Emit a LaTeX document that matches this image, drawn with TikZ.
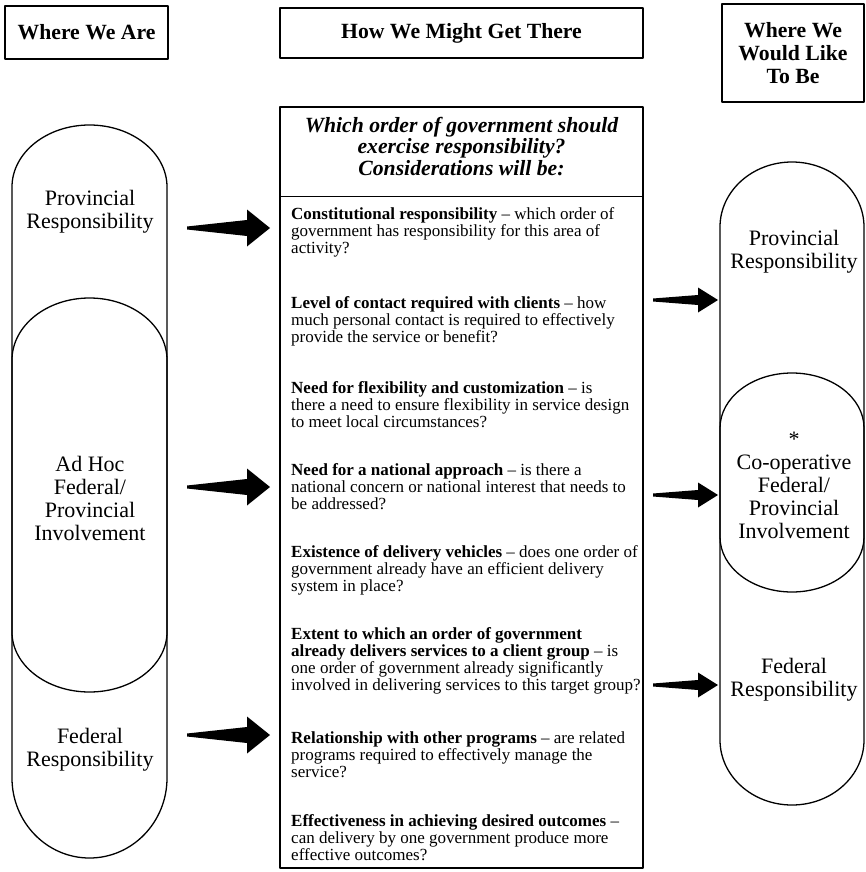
\documentclass[tikz,border=0pt]{standalone}
\usepackage{fontspec}
\setmainfont{Liberation Serif}
\usetikzlibrary{calc}

\begin{document}
\begin{tikzpicture}[x=1pt, y=-1pt, line join=round,
  heading/.style={draw, line width=1.5pt, inner sep=0pt, align=center,
    font=\fontsize{21.7}{23}\selectfont\bfseries},
  stage/.style={align=center, inner sep=0pt, font=\fontsize{22}{23}\selectfont},
  crit/.style={anchor=base west, inner sep=0pt, align=left,
    font=\fontsize{17}{17}\selectfont},
  capsule/.style={draw, line width=1.3pt},
  fatarrow/.style n args={3}{to path={let \p1=(\tikztostart), \p2=(\tikztotarget) in
    (\x1,\y1+1.5pt) -- (\x2-#1,\y2+#3) -- (\x2-#1,\y2+#2) -- (\x2,\y2)
    -- (\x2-#1,\y2-#2) -- (\x2-#1,\y2-#3) -- (\x1,\y1-1.5pt) -- cycle}},
  bigarrow/.style={fatarrow={23pt}{18.5pt}{8pt}},
  smallarrow/.style={fatarrow={20pt}{12.5pt}{5pt}}]

  \useasboundingbox (0,0) rectangle (865,872);

  % column headings
  \node[heading, minimum width=163pt, minimum height=53pt] (now) at (86.5,32.5) {Where We Are};
  \node[heading, minimum width=363pt, minimum height=50pt] (how) at (461.5,33) {How We Might Get There};
  \node[heading, minimum width=142pt, minimum height=98pt] (goal) at (793,53) {Where We\\Would Like\\To Be};

  % left column
  \draw[capsule] (12,187) arc[start angle=180, end angle=0, x radius=77.5pt, y radius=62pt]
    -- (167,778) arc[start angle=0, end angle=-180, x radius=77.5pt, y radius=80pt] -- cycle;
  \draw[capsule] (12,360) arc[start angle=180, end angle=0, x radius=77.5pt, y radius=62pt]
    -- (167,632) arc[start angle=0, end angle=-180, x radius=77.5pt, y radius=60pt] -- cycle;
  \node[stage] (prov) at (90,211.5) {Provincial\\Responsibility};
  \node[stage] (adhoc) at (90,498) {Ad Hoc\\Federal/\\Provincial\\Involvement};
  \node[stage] (fed) at (90,750) {Federal\\Responsibility};

  % right column
  \draw[capsule] (720,227) arc[start angle=180, end angle=0, x radius=72pt, y radius=65pt]
    -- (864,740) arc[start angle=0, end angle=-180, x radius=72pt, y radius=65pt] -- cycle;
  \draw[capsule] (720,428) arc[start angle=180, end angle=0, x radius=72pt, y radius=55pt]
    -- (864,537) arc[start angle=0, end angle=-180, x radius=72pt, y radius=55pt] -- cycle;
  \node[stage] (prov2) at (794,251.5) {Provincial\\Responsibility};
  \node[stage] (coop) at (794,485) {*\\Co-operative\\Federal/\\Provincial\\Involvement};
  \node[stage] (fed2) at (794,680) {Federal\\Responsibility};

  % considerations box
  \node[draw, line width=1.5pt, inner sep=0pt, minimum width=363pt, minimum height=761pt] (box) at (461.5,487.5) {};
  \draw[line width=1.3pt] ([yshift=-90pt]box.north west) -- ([yshift=-90pt]box.north east);
  \node[align=center, inner sep=0pt, font=\fontsize{21.7}{21.5}\selectfont\bfseries\itshape] (title) at (461.5,146.5)
    {Which order of government should\\exercise responsibility?\\Considerations will be:};

  % base of each node = baseline of its last line
  \node[crit] (c1) at (291,253) {\textbf{Constitutional responsibility} -- which order of\\government has responsibility for this area of\\activity?};
  \node[crit] (c2) at (291,342) {\textbf{Level of contact required with clients} -- how\\much personal contact is required to effectively\\provide the service or benefit?};
  \node[crit] (c3) at (291,427) {\textbf{Need for flexibility and customization} -- is\\there a need to ensure flexibility in service design\\to meet local circumstances?};
  \node[crit] (c4) at (291,509) {\textbf{Need for a national approach} -- is there a\\national concern or national interest that needs to\\be addressed?};
  \node[crit] (c5) at (291,591) {\textbf{Existence of delivery vehicles} -- does one order of\\government already have an efficient delivery\\system in place?};
  \node[crit] (c6) at (291,690) {\textbf{Extent to which an order of government}\\\textbf{already delivers services to a client group} -- is\\one order of government already significantly\\involved in delivering services to this target group?};
  \node[crit] (c7) at (291,777) {\textbf{Relationship with other programs} -- are related\\programs required to effectively manage the\\service?};
  \node[crit] (c8) at (291,860) {\textbf{Effectiveness in achieving desired outcomes} --\\can delivery by one government produce more\\effective outcomes?};

  % arrows
  \coordinate (t1) at (187,228); \coordinate (h1) at (270,228);
  \coordinate (t2) at (187,487); \coordinate (h2) at (270,487);
  \coordinate (t3) at (187,735); \coordinate (h3) at (270,735);
  \coordinate (t4) at (653,300); \coordinate (h4) at (718,300);
  \coordinate (t5) at (653,495); \coordinate (h5) at (718,495);
  \coordinate (t6) at (653,685); \coordinate (h6) at (718,685);
  \fill[bigarrow] (t1) to (h1);
  \fill[bigarrow] (t2) to (h2);
  \fill[bigarrow] (t3) to (h3);
  \fill[smallarrow] (t4) to (h4);
  \fill[smallarrow] (t5) to (h5);
  \fill[smallarrow] (t6) to (h6);
\end{tikzpicture}
\end{document}
